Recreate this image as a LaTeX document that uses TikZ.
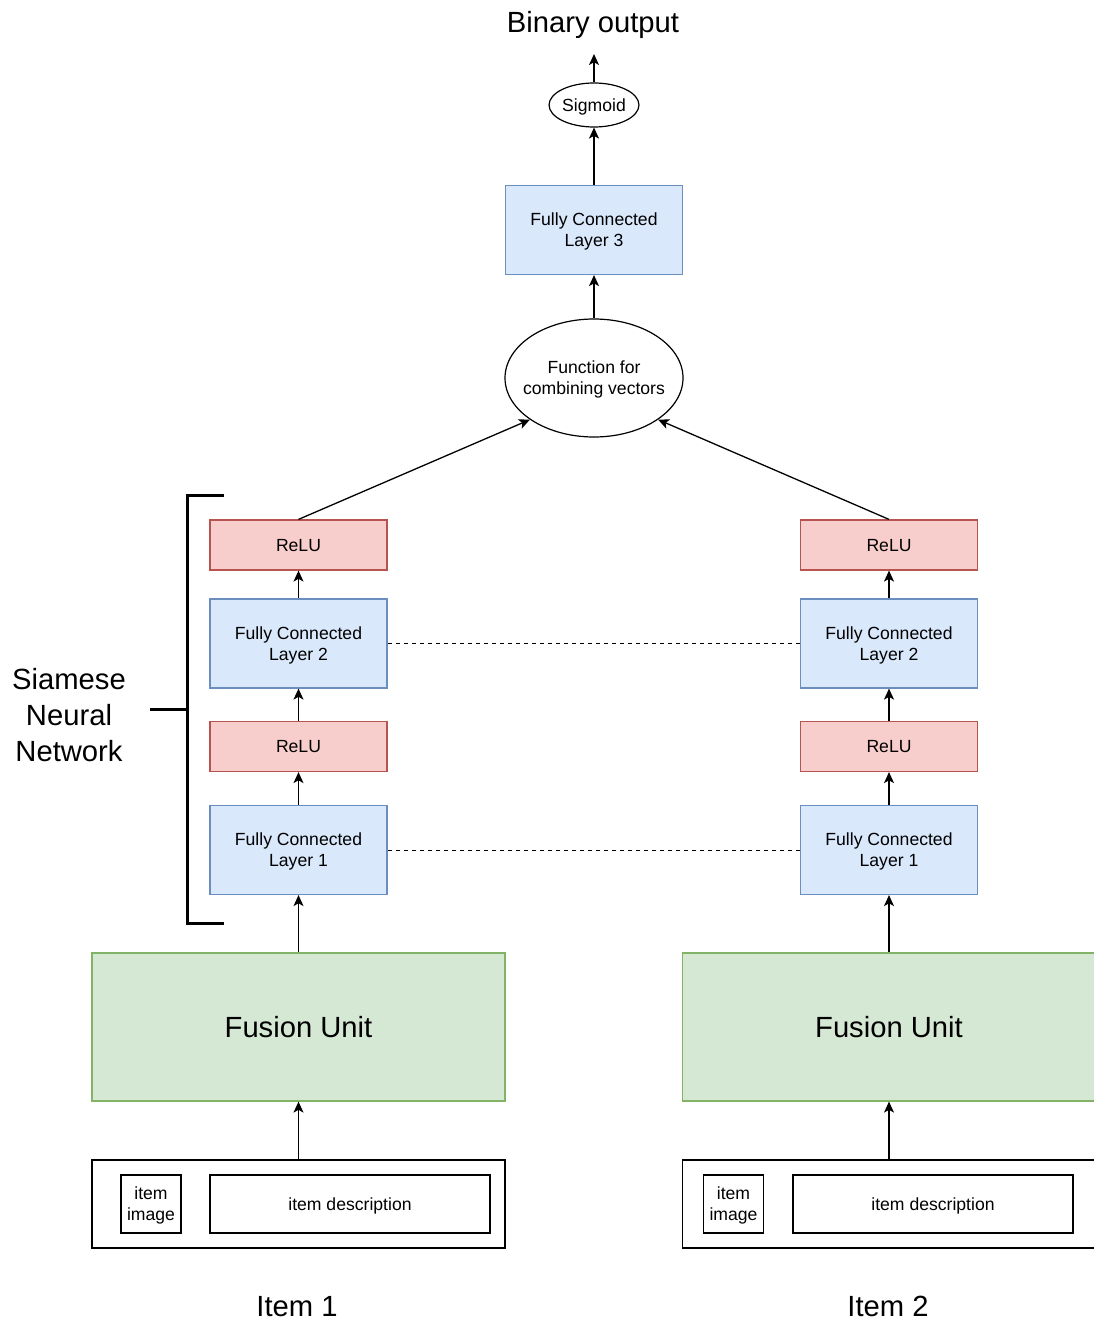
\documentclass[tikz,border=0pt]{standalone}
\usepackage{fontspec}
\setmainfont{Liberation Sans}
\usepackage{xcolor}
\usepackage{tikz}
\usetikzlibrary{arrows.meta,shapes.geometric}

\definecolor{fcfill}{HTML}{DAE8FC}
\definecolor{fcdraw}{HTML}{6C8EBF}
\definecolor{relufill}{HTML}{F8CECC}
\definecolor{reludraw}{HTML}{B85450}
\definecolor{fusfill}{HTML}{D5E8D4}
\definecolor{fusdraw}{HTML}{82B366}

\tikzset{
  smalltxt/.style={font=\fontsize{8.8}{10.5}\selectfont, align=center, text depth=0pt},
  bigtxt/.style={font=\fontsize{14.6}{17.8}\selectfont, align=center, text depth=0pt},
  fcbox/.style={smalltxt, draw=fcdraw, fill=fcfill, line width=0.6pt, minimum width=88.5pt, minimum height=44.5pt, inner sep=0pt},
  relubox/.style={smalltxt, draw=reludraw, fill=relufill, line width=0.6pt, minimum width=88.5pt, minimum height=25pt, inner sep=0pt},
  fusbox/.style={bigtxt, draw=fusdraw, fill=fusfill, line width=0.6pt, minimum width=206.5pt, minimum height=74pt, inner sep=0pt},
  itembox/.style={draw, line width=0.6pt, minimum width=206.5pt, minimum height=44pt, inner sep=0pt},
  imgbox/.style={smalltxt, draw, line width=0.6pt, minimum width=30pt, minimum height=29pt, inner sep=0pt},
  descbox/.style={smalltxt, draw, line width=0.6pt, minimum width=140pt, minimum height=29pt, inner sep=0pt},
  oval/.style={smalltxt, draw, ellipse, line width=0.6pt, inner sep=0pt},
  arr/.style={-{Stealth[length=5.5pt,width=5pt,inset=1.4pt]}, line width=0.65pt},
}

\begin{document}
\begin{tikzpicture}[x=0.5pt,y=-0.5pt]
                \useasboundingbox (0,0) rectangle (1093,1322);

                % top part
                \node[bigtxt] (bin) at (593,22) {Binary output};
                \coordinate (out) at (594,54);
                \node[oval, minimum width=44pt, minimum height=22pt] (sig) at (594,105) {Sigmoid};
                \node[fcbox] (fc3) at (594,230) {Fully Connected\\Layer 3};
                \node[oval, inner xsep=-4.5pt, minimum width=89pt, minimum height=59pt] (comb) at (594,378) {Function for\\combining vectors};

                % left branch
                \node[relubox] (relu2L) at (298.5,545) {ReLU};
                \node[fcbox] (fc2L) at (298.5,643.5) {Fully Connected\\Layer 2};
                \node[relubox] (relu1L) at (298.5,746.5) {ReLU};
                \node[fcbox] (fc1L) at (298.5,850) {Fully Connected\\Layer 1};
                \node[fusbox] (fusL) at (298.5,1027) {Fusion Unit};
                \node[itembox] (itemL) at (298.5,1204) {};
                \node[imgbox] (imgL) at (151,1204) {item\\image};
                \node[descbox] (descL) at (350,1204) {item description};
                \node[bigtxt] (lab1) at (297,1306) {Item 1};

                % right branch
                \node[relubox] (relu2R) at (889,545) {ReLU};
                \node[fcbox] (fc2R) at (889,643.5) {Fully Connected\\Layer 2};
                \node[relubox] (relu1R) at (889,746.5) {ReLU};
                \node[fcbox] (fc1R) at (889,850) {Fully Connected\\Layer 1};
                \node[fusbox] (fusR) at (889,1027) {Fusion Unit};
                \node[itembox] (itemR) at (889,1204) {};
                \node[imgbox] (imgR) at (733.5,1204) {item\\image};
                \node[descbox] (descR) at (933,1204) {item description};
                \node[bigtxt] (lab2) at (888,1306) {Item 2};

                % arrows
                \draw[arr] (sig.north) -- (out);
                \draw[arr] (fc3.north) -- (sig.south);
                \draw[arr] (comb.north) -- (fc3.south);
                \draw[arr] (relu2L.north) -- (comb.213);
                \draw[arr] (relu2R.north) -- (comb.-33);

                \draw[arr] (itemL.north) -- (fusL.south);
                \draw[arr] (fusL.north) -- (fc1L.south);
                \draw[arr] (fc1L.north) -- (relu1L.south);
                \draw[arr] (relu1L.north) -- (fc2L.south);
                \draw[arr] (fc2L.north) -- (relu2L.south);

                \draw[arr] (itemR.north) -- (fusR.south);
                \draw[arr] (fusR.north) -- (fc1R.south);
                \draw[arr] (fc1R.north) -- (relu1R.south);
                \draw[arr] (relu1R.north) -- (fc2R.south);
                \draw[arr] (fc2R.north) -- (relu2R.south);

                % shared weights
                \draw[dash pattern=on 2pt off 2pt, line width=0.5pt] (fc2L.east) -- (fc2R.west);
                \draw[dash pattern=on 2pt off 2pt, line width=0.5pt] (fc1L.east) -- (fc1R.west);

                % bracket
                \draw[line width=1.5pt] (224,495) -- (187,495) -- (187,923) -- (224,923);
                \draw[line width=1.5pt] (150,709) -- (187,709);
                \node[bigtxt] (siam) at (69,715) {Siamese\\Neural\\Network};

        \end{tikzpicture}
\end{document}
